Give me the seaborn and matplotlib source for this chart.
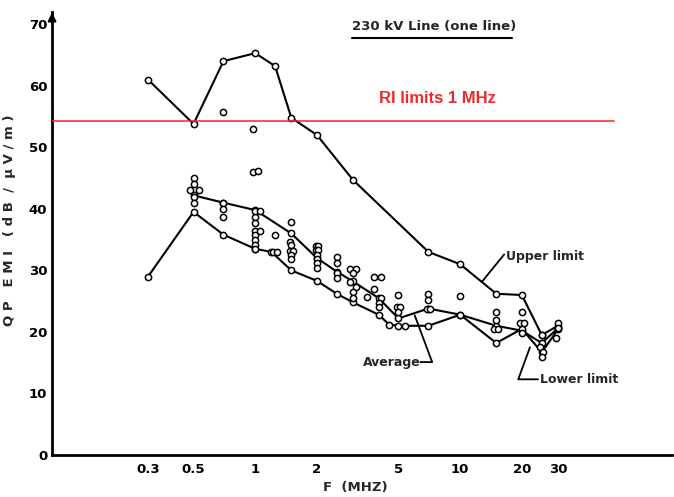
import matplotlib
matplotlib.use("Agg")
import matplotlib.pyplot as plt
import seaborn as sns
import pandas as pd
import numpy as np
from matplotlib.ticker import FixedLocator, FixedFormatter, NullLocator

# ---- data ----
upper_f = [0.3, 0.5, 0.7, 1.0, 1.25, 1.5, 2.0, 3.0, 7.0, 10.0, 15.0, 20.0, 25.0, 30.0]
upper_v = [61.0, 53.8, 64.0, 65.3, 63.2, 54.8, 52.0, 44.7, 33.0, 31.0, 26.2, 26.0, 19.5, 21.0]

avg_f = [0.5, 0.7, 1.0, 1.5, 2.0, 2.5, 3.0, 4.0, 5.0, 7.0, 10.0, 15.0, 20.0, 25.0, 30.0]
avg_v = [42.2, 41.0, 39.8, 36.0, 32.0, 29.8, 28.2, 25.5, 22.2, 23.8, 22.8, 21.0, 20.2, 18.2, 20.6]

lower_f = [0.3, 0.5, 0.7, 1.0, 1.2, 1.5, 2.0, 2.5, 3.0, 4.0, 4.5, 5.0, 5.4, 7.0, 10.0, 15.0, 20.0, 25.0, 30.0]
lower_v = [29.0, 39.5, 35.8, 33.5, 33.0, 30.0, 28.3, 26.2, 24.8, 22.8, 21.2, 21.0, 21.0, 21.0, 22.8, 18.2, 20.5, 16.7, 20.4]

scatter_f = [0.5, 0.5, 0.48, 0.53, 0.5, 0.5,
             0.7, 0.7, 0.7, 0.7,
             0.98, 0.98, 1.03, 1.0, 1.0, 1.0, 1.0, 1.0, 1.0, 1.0, 1.0, 1.05, 1.05,
             1.25, 1.22, 1.28,
             1.5, 1.47, 1.5, 1.47, 1.53, 1.5, 1.5,
             1.97, 2.03, 1.97, 2.03, 2.0, 2.0, 2.0, 2.0,
             2.5, 2.5, 2.5, 2.5,
             2.9, 3.1, 3.0, 2.9, 3.1, 3.0, 3.0, 3.5,
             3.8, 4.1, 3.8, 4.1, 4.0, 4.0,
             5.0, 4.9, 5.1, 5.0,
             7.0, 7.0, 6.9, 7.1,
             10.0,
             15.0, 15.0, 14.7, 15.3,
             20.0, 19.5, 20.5, 20.0,
             25.0, 24.5, 25.5, 25.0,
             30.0, 30.0, 29.5]
scatter_v = [45.0, 44.0, 43.0, 43.0, 42.0, 41.0,
             55.7, 41.0, 39.9, 38.7,
             52.9, 46.0, 46.2, 38.6, 37.7, 36.4, 35.7, 34.9, 34.1, 33.4, 39.6, 39.6, 36.4,
             35.7, 33.0, 33.0,
             37.9, 34.6, 34.1, 33.1, 33.1, 32.5, 31.8,
             33.9, 33.9, 33.3, 33.3, 32.5, 31.8, 31.2, 30.4,
             32.1, 31.2, 29.5, 28.7,
             30.2, 30.2, 29.5, 28.1, 27.3, 26.5, 25.5, 25.7,
             29.0, 29.0, 27.0, 25.5, 24.7, 24.0,
             26.0, 24.0, 24.0, 23.2,
             26.1, 25.2, 23.7, 23.7,
             25.8,
             23.2, 21.9, 20.5, 20.5,
             23.2, 21.4, 21.4, 19.8,
             19.5, 17.5, 16.7, 15.9,
             21.4, 20.6, 19.0]

ri_limit = 54.3
ri_range = [0.102, 56.0]
xticks = [0.3, 0.5, 1, 2, 5, 10, 20, 30]
xticklabels = ["0.3", "0.5", "1", "2", "5", "10", "20", "30"]
yticks = [0, 10, 20, 30, 40, 50, 60, 70]

# ---- figure ----
sns.set_style("white")
plt.rcParams['font.family'] = ['DejaVu Sans']
fig = plt.figure(figsize=(6.74, 4.97), dpi=100)
ax = fig.add_axes([0.0772, 0.0845, 0.9198, 0.8915])
ax.set_xscale('log')

line_kw = dict(color='black', linewidth=1.5, marker='o', markersize=4.5,
               markerfacecolor='white', markeredgecolor='black', markeredgewidth=1.1,
               errorbar=None, sort=False, ax=ax)
sns.lineplot(data=pd.DataFrame({'f': upper_f, 'v': upper_v}), x='f', y='v', **line_kw)
sns.lineplot(data=pd.DataFrame({'f': avg_f, 'v': avg_v}), x='f', y='v', **line_kw)
sns.lineplot(data=pd.DataFrame({'f': lower_f, 'v': lower_v}), x='f', y='v', **line_kw)
sns.scatterplot(data=pd.DataFrame({'f': scatter_f, 'v': scatter_v}), x='f', y='v',
                marker='o', s=20, facecolor='white', edgecolor='black', linewidth=1.1,
                ax=ax, zorder=3)

# red RI limit line
ax.plot(ri_range, [ri_limit, ri_limit], color='#ff2020', linewidth=1.1, zorder=4)
ax.text(4.0, 58.0, "RI limits 1 MHz", color='#ee2a2a', fontsize=12,
        family='Liberation Sans', fontweight='bold', va='center', ha='left')

# title
ax.text(2.97, 69.6, "230 kV Line (one line)", fontsize=9.5, fontweight='bold',
        va='center', ha='left')
ax.plot([2.97, 17.9], [67.7, 67.7], color='black', linewidth=1.5, clip_on=False)

# annotations
ax.text(16.8, 32.3, "Upper limit", fontsize=9, fontweight='bold', va='center', ha='left')
ax.plot([16.4, 12.8], [32.6, 28.2], color='black', linewidth=1.3)
ax.text(3.36, 15.1, "Average", fontsize=9, fontweight='bold', va='center', ha='left')
ax.plot([6.4, 7.3, 6.0], [15.1, 15.1, 22.7], color='black', linewidth=1.3)
ax.text(24.6, 12.3, "Lower limit", fontsize=9, fontweight='bold', va='center', ha='left')
ax.plot([24.0, 19.2, 21.9], [12.3, 12.3, 17.5], color='black', linewidth=1.3)

# axes styling
ax.set_xlim(0.102, 108)
ax.set_ylim(0, 72)
ax.xaxis.set_major_locator(FixedLocator(xticks))
ax.xaxis.set_major_formatter(FixedFormatter(xticklabels))
ax.xaxis.set_minor_locator(NullLocator())
ax.set_yticks(yticks)
ax.tick_params(axis='both', direction='in', length=7, width=1.5, labelsize=9.5,
               colors='black')
ax.tick_params(axis='x', pad=6)
for lab in ax.get_xticklabels() + ax.get_yticklabels():
    lab.set_fontweight('bold')
for s in ['top', 'right']:
    ax.spines[s].set_visible(False)
for s in ['left', 'bottom']:
    ax.spines[s].set_linewidth(2)
    ax.spines[s].set_color('black')
ax.annotate('', xy=(0, 1.005), xycoords='axes fraction', xytext=(0, 0.97),
            arrowprops=dict(arrowstyle='-|>', color='black', lw=1.5, mutation_scale=12))

ax.set_xlabel("F  (MHZ)", fontsize=9.5, fontweight='bold')
ax.set_ylabel("Q P   E M I   ( d B  /  \u03bc V / m )", fontsize=9.5, fontweight='bold')
ax.xaxis.set_label_coords(0.49, -0.058)
ax.yaxis.set_label_coords(-0.058, 0.53)

fig.savefig("out.png", dpi=100)
